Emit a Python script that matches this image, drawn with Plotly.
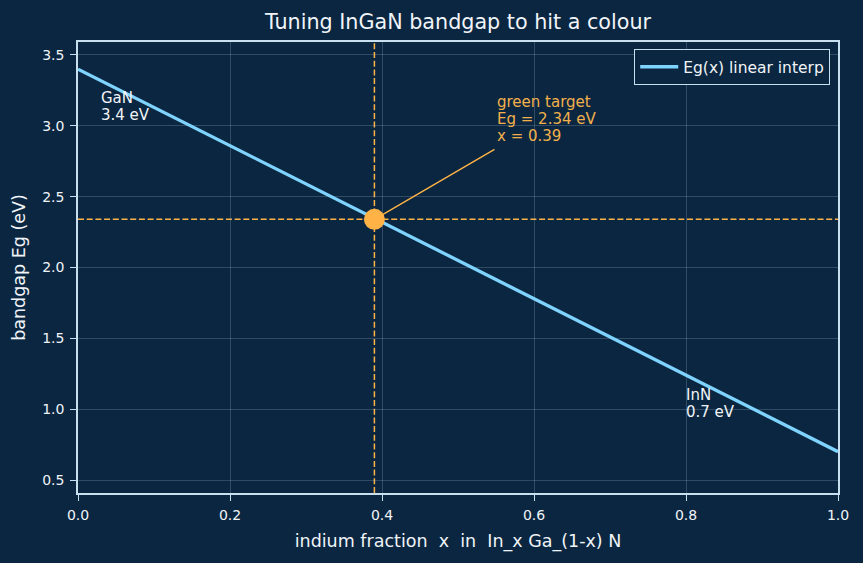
import plotly.graph_objects as go

x_vals = [0.0, 1.0]
eg_vals = [3.4, 0.7]
target_x = 0.39
target_eg = 2.34
x_ticks = [0.0, 0.2, 0.4, 0.6, 0.8, 1.0]
y_ticks = [0.5, 1.0, 1.5, 2.0, 2.5, 3.0, 3.5]

target_lines = ["green target", "Eg = 2.34 eV", "x = 0.39"]
gan_lines = ["GaN", "3.4 eV"]
inn_lines = ["InN", "0.7 eV"]

BG = "#0b2640"
LINE = "#7fd4ff"
ORANGE = "#ffb347"
ORANGE_TXT = "#f2b04c"
SPINE = "#c8dff0"
TXT = "#f0f4f8"
FONT = "DejaVu Sans"

fig = go.Figure()
fig.add_trace(go.Scatter(x=x_vals, y=eg_vals, mode="lines", name="Eg(x) linear interp",
                         line=dict(color=LINE, width=3.3)))
fig.add_trace(go.Scatter(x=[target_x], y=[target_eg], mode="markers", showlegend=False,
                         marker=dict(color=ORANGE, size=21, line=dict(width=0))))

dash = "6px,2.7px"
fig.add_vline(x=target_x, line=dict(color=ORANGE, width=1.5, dash=dash), layer="below")
fig.add_hline(y=target_eg, line=dict(color=ORANGE, width=1.5, dash=dash), layer="below")

fig.add_annotation(x=target_x, y=target_eg, ax=0.55, ay=2.84, axref="x", ayref="y",
                   xref="x", yref="y", text="", showarrow=True, arrowhead=0,
                   arrowwidth=1.4, arrowcolor=ORANGE, standoff=10)


def add_lines(lines, x, y, color):
    for i, t in enumerate(lines):
        fig.add_annotation(x=x, y=y, xref="x", yref="y", text=t, showarrow=False,
                           xanchor="left", yanchor="middle", yshift=-17 * i,
                           font=dict(color=color, size=15, family=FONT))


add_lines(target_lines, 0.549, 3.168, ORANGE_TXT)
add_lines(gan_lines, 0.028, 3.198, TXT)
add_lines(inn_lines, 0.798, 1.100, TXT)

axis_common = dict(showline=True, linecolor=SPINE, linewidth=1.5, mirror=True,
                   ticks="outside", ticklen=6, tickcolor=SPINE, tickwidth=1.2,
                   showgrid=True, gridcolor="rgba(200,223,240,0.2)", gridwidth=1,
                   zeroline=False, tickfont=dict(color=TXT, size=14, family=FONT))

fig.update_xaxes(range=[0, 1], tickvals=x_ticks, ticktext=[f"{v:.1f}" for v in x_ticks],
                 ticklabelstandoff=2,
                 title=dict(text="indium fraction  x  in  In_x Ga_(1-x) N",
                            font=dict(color=TXT, size=17.5, family=FONT), standoff=13),
                 **axis_common)
fig.update_yaxes(range=[0.4085, 3.5915], tickvals=y_ticks, ticktext=[f"{v:.1f}" for v in y_ticks],
                 ticklabelstandoff=3,
                 title=dict(text="bandgap Eg (eV)", font=dict(color=TXT, size=17.5, family=FONT), standoff=12),
                 **axis_common)

fig.update_layout(
    width=863, height=563,
    paper_bgcolor=BG, plot_bgcolor=BG,
    margin=dict(l=78, r=25, t=42, b=70),
    title=dict(text="Tuning InGaN bandgap to hit a colour", x=0.5, xref="paper", xanchor="center",
               y=1 - 22/563, yanchor="middle",
               font=dict(color=TXT, size=20.7, family=FONT)),
    font=dict(family=FONT, color=TXT),
    legend=dict(x=0.9895, y=0.9845, xanchor="right", yanchor="top",
                bgcolor=BG, bordercolor=SPINE, borderwidth=1.2, itemwidth=38,
                tracegroupgap=0,
                font=dict(color=TXT, size=15.5, family=FONT)),
    showlegend=True,
)

fig.write_html("out.html")
